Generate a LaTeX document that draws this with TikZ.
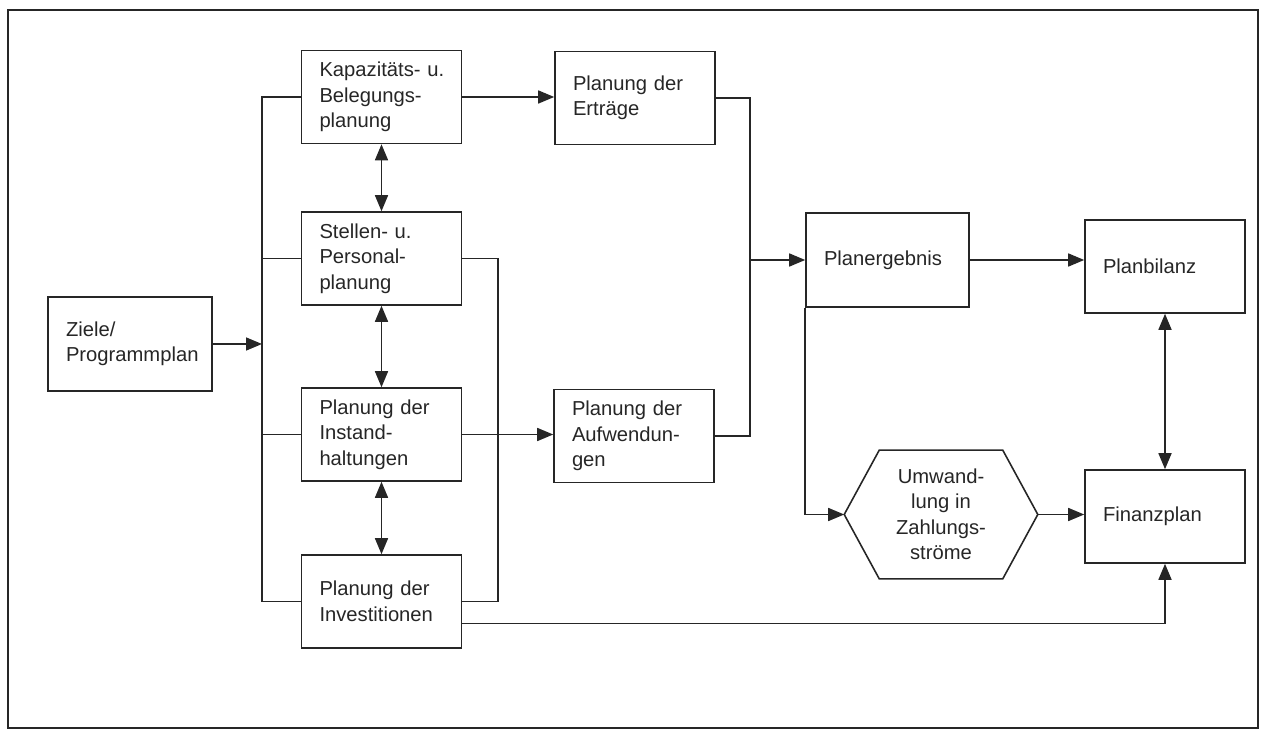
\documentclass[tikz,border=0pt]{standalone}
\usepackage{fontspec}
\setmainfont{Liberation Sans}
\usetikzlibrary{arrows.meta}

\tikzset{
  box/.style={draw, text width=#1, align=left, inner xsep=0.36cm, minimum height=1.86cm,
    font=\fontsize{11.5}{14.5}\selectfont},
  box/.default=2.48cm,
  tip/.style={-{Triangle[length=0.32cm,width=0.26cm]}},
  both/.style={{Triangle[length=0.32cm,width=0.26cm]}-{Triangle[length=0.32cm,width=0.26cm]}}
}

\begin{document}
\begin{tikzpicture}[line width=0.9pt, color=black!85]
  \useasboundingbox (0,0) rectangle (25.26,14.66);
  \draw (0.16,0.10) rectangle (25.16,14.46);

  \node[box=2.56cm, minimum height=1.88cm] (ziele) at (2.6,7.78) {Ziele/\\Programmplan};
  \node[box] (kap) at (7.63,12.72) {\mbox{Kapazitäts- u.}\\Belegungs-\\planung};
  \node[box] (stellen) at (7.63,9.49) {Stellen- u.\\Personal-\\planung};
  \node[box] (instand) at (7.63,5.97) {Planung der\\Instand-\\haltungen};
  \node[box] (invest) at (7.63,2.63) {Planung der\\Investitionen};
  \node[box] (ertr) at (12.7,12.7) {Planung der\\Erträge};
  \node[box] (aufw) at (12.68,5.94) {Planung der\\Aufwendun-\\gen};
  \node[box=2.54cm, minimum height=1.88cm] (planerg) at (17.75,9.46) {Planergebnis};
  \node[box] (planbil) at (23.3,9.33) {Planbilanz};
  \node[box] (finanz) at (23.3,4.33) {Finanzplan};
  \node[align=center, minimum width=3.84cm, minimum height=2.54cm, inner sep=0pt,
    font=\fontsize{11.5}{14.5}\selectfont] (umw) at (18.82,4.37) {Umwand-\\lung in\\Zahlungs-\\ströme};
  \draw ([xshift=0.7cm]umw.north west) -- ([xshift=-0.7cm]umw.north east) -- (umw.east)
    -- ([xshift=-0.7cm]umw.south east) -- ([xshift=0.7cm]umw.south west) -- (umw.west) -- cycle;

  % left bus
  \coordinate (lbus) at (5.24,0);
  \draw (kap.west) -| (lbus |- invest.west) -- (invest.west);
  \foreach \n in {stellen,instand} \draw (\n.west) -- (lbus |- \n.west);
  \draw[tip] (ziele.east) -- (lbus |- ziele.east);

  % right bus
  \coordinate (rbus) at (9.96,0);
  \draw (stellen.east) -| (rbus |- invest.east) -- (invest.east);

  \foreach \a/\b in {kap/stellen, stellen/instand, instand/invest}
    \draw[both] (\a.south) -- (\b.north);

  \draw[tip] (kap.east) -- (kap.east -| ertr.west);
  \draw[tip] (instand.east) -- (instand.east -| aufw.west);

  % collector
  \coordinate (coll) at (15,0);
  \draw (ertr.east) -| (coll |- aufw.east) -- (aufw.east);
  \draw[tip] (coll |- planerg.west) -- (planerg.west);

  \draw[tip] (planerg.east) -- (planerg.east -| planbil.west);
  \draw[tip] (planerg.south west) |- (umw.west);
  \draw[tip] (umw.east) -- (umw.east -| finanz.west);
  \draw[both] (planbil.south) -- (finanz.north);
  \draw[tip] ([yshift=-0.44cm]invest.east) -| (finanz.south);
\end{tikzpicture}
\end{document}
